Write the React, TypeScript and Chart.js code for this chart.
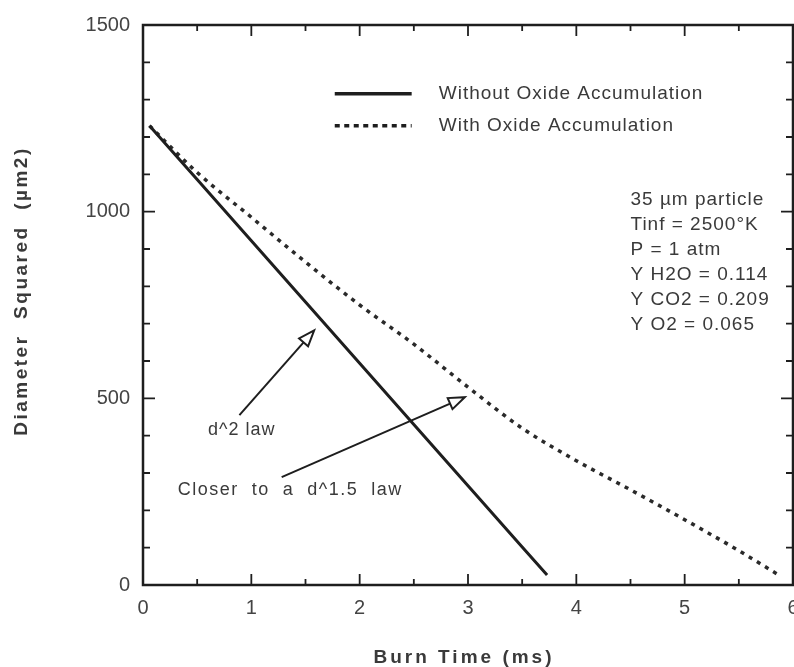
import React, { useEffect, useRef } from 'react';
import { Chart, registerables } from 'chart.js';

Chart.register(...registerables);

// ---- data ----
const withoutOxideTime = [0.06, 0.5, 1.0, 1.5, 2.0, 2.5, 3.0, 3.5, 3.73];
const withoutOxideD2 = [1230, 1086, 922, 758, 594, 430, 266, 102, 27];
const withOxideTime = [0.06, 0.5, 1.0, 1.5, 2.0, 2.5, 3.0, 3.5, 4.0, 4.5, 5.0, 5.5, 5.85];
const withOxideD2 = [1230, 1105, 985, 865, 750, 645, 530, 420, 333, 255, 175, 92, 30];
const seriesLabels = ['Without Oxide Accumulation', 'With Oxide Accumulation'];
const conditionLines = ['35 µm particle', 'Tinf = 2500°K', 'P = 1 atm', 'Y H2O = 0.114', 'Y CO2 = 0.209', 'Y O2 = 0.065'];
const xAxisTitle = 'Burn Time (ms)';
const yAxisTitle = 'Diameter  Squared  (µm2)';
const d2Label = 'd^2 law';
const d15Label = 'Closer  to  a  d^1.5  law';

// ---- layout constants (data coordinates) ----
const X_MIN = 0, X_MAX = 6, X_STEP = 1, X_MINOR = 0.5;
const Y_MIN = 0, Y_MAX = 1500, Y_STEP = 500, Y_MINOR = 100;
const LEGEND_X0 = 1.77, LEGEND_X1 = 2.48, LEGEND_TEXT_X = 2.73;
const LEGEND_ROWS_Y = [1316, 1230];
const COND_X = 4.5;
const COND_Y = [1032, 965, 898, 831, 765, 698];
const D2_ARROW = { x0: 0.89, y0: 455, x1: 1.58, y1: 682 };
const D15_ARROW = { x0: 1.28, y0: 289, x1: 2.97, y1: 503 };
const D2_TEXT = { x: 0.6, y: 414 };
const D15_TEXT = { x: 0.32, y: 254 };

const FONT = '"Liberation Sans", Arial, Helvetica, sans-serif';
const INK = '#1e1e1e';
const TEXT = '#3a3a3a';

function setSpacing(ctx: CanvasRenderingContext2D, px: number) {
  (ctx as any).letterSpacing = px + 'px';
}

function drawArrow(ctx: CanvasRenderingContext2D, x0: number, y0: number, x1: number, y1: number) {
  const dx = x1 - x0, dy = y1 - y0;
  const len = Math.hypot(dx, dy);
  const ux = dx / len, uy = dy / len;
  const nx = -uy, ny = ux;
  const L = 16, W = 6;
  const bx = x1 - ux * L, by = y1 - uy * L;
  ctx.beginPath();
  ctx.moveTo(x0, y0);
  ctx.lineTo(bx, by);
  ctx.stroke();
  ctx.beginPath();
  ctx.moveTo(x1, y1);
  ctx.lineTo(bx + nx * W, by + ny * W);
  ctx.lineTo(bx - nx * W, by - ny * W);
  ctx.closePath();
  ctx.stroke();
}

const decorPlugin = {
  id: 'decor',
  afterDatasetsDraw(chart: any) {
    const { ctx, chartArea: a, scales } = chart;
    const xs = scales.x, ys = scales.y;
    ctx.save();
    // frame
    ctx.strokeStyle = INK;
    ctx.lineWidth = 2.5;
    ctx.strokeRect(a.left, a.top, a.right - a.left, a.bottom - a.top);
    // inward ticks
    ctx.lineWidth = 1.8;
    const nX = Math.round((X_MAX - X_MIN) / X_MINOR);
    for (let i = 0; i <= nX; i++) {
      const v = X_MIN + i * X_MINOR;
      const px = xs.getPixelForValue(v);
      const major = Math.abs(v / X_STEP - Math.round(v / X_STEP)) < 1e-6;
      const len = major ? 11 : 6;
      ctx.beginPath();
      ctx.moveTo(px, a.bottom); ctx.lineTo(px, a.bottom - len);
      ctx.moveTo(px, a.top); ctx.lineTo(px, a.top + len);
      ctx.stroke();
    }
    const nY = Math.round((Y_MAX - Y_MIN) / Y_MINOR);
    for (let i = 0; i <= nY; i++) {
      const v = Y_MIN + i * Y_MINOR;
      const py = ys.getPixelForValue(v);
      const major = Math.abs(v / Y_STEP - Math.round(v / Y_STEP)) < 1e-6;
      const len = major ? 12 : 7;
      ctx.beginPath();
      ctx.moveTo(a.left, py); ctx.lineTo(a.left + len, py);
      ctx.moveTo(a.right, py); ctx.lineTo(a.right - len, py);
      ctx.stroke();
    }

    // legend
    ctx.strokeStyle = INK;
    ctx.lineWidth = 3.5;
    ctx.setLineDash([]);
    let ly = ys.getPixelForValue(LEGEND_ROWS_Y[0]);
    ctx.beginPath();
    ctx.moveTo(xs.getPixelForValue(LEGEND_X0), ly);
    ctx.lineTo(xs.getPixelForValue(LEGEND_X1), ly);
    ctx.stroke();
    ly = ys.getPixelForValue(LEGEND_ROWS_Y[1]);
    ctx.setLineDash([5, 4.5]);
    ctx.beginPath();
    ctx.moveTo(xs.getPixelForValue(LEGEND_X0), ly);
    ctx.lineTo(xs.getPixelForValue(LEGEND_X1), ly);
    ctx.stroke();
    ctx.setLineDash([]);

    ctx.fillStyle = TEXT;
    ctx.textBaseline = 'middle';
    ctx.textAlign = 'left';
    ctx.font = `19px ${FONT}`;
    setSpacing(ctx, 1);
    seriesLabels.forEach((s, i) => {
      ctx.fillText(s, xs.getPixelForValue(LEGEND_TEXT_X), ys.getPixelForValue(LEGEND_ROWS_Y[i]));
    });

    // conditions block
    conditionLines.forEach((s, i) => {
      ctx.fillText(s, xs.getPixelForValue(COND_X), ys.getPixelForValue(COND_Y[i]));
    });

    // annotations
    ctx.font = `18px ${FONT}`;
    setSpacing(ctx, 1);
    ctx.fillText(d2Label, xs.getPixelForValue(D2_TEXT.x), ys.getPixelForValue(D2_TEXT.y));
    setSpacing(ctx, 1.5);
    ctx.fillText(d15Label, xs.getPixelForValue(D15_TEXT.x), ys.getPixelForValue(D15_TEXT.y));
    setSpacing(ctx, 0);

    ctx.strokeStyle = INK;
    ctx.lineWidth = 2;
    drawArrow(ctx, xs.getPixelForValue(D2_ARROW.x0), ys.getPixelForValue(D2_ARROW.y0),
      xs.getPixelForValue(D2_ARROW.x1), ys.getPixelForValue(D2_ARROW.y1));
    drawArrow(ctx, xs.getPixelForValue(D15_ARROW.x0), ys.getPixelForValue(D15_ARROW.y0),
      xs.getPixelForValue(D15_ARROW.x1), ys.getPixelForValue(D15_ARROW.y1));

    // axis titles
    ctx.fillStyle = TEXT;
    ctx.font = `bold 19px ${FONT}`;
    ctx.textAlign = 'center';
    setSpacing(ctx, 3);
    ctx.fillText(xAxisTitle, (a.left + a.right) / 2 - 4, 658);
    ctx.translate(22, 291);
    ctx.rotate(-Math.PI / 2);
    setSpacing(ctx, 2.5);
    ctx.fillText(yAxisTitle, 0, 0);
    setSpacing(ctx, 0);
    ctx.restore();
  },
};

export default function App() {
  const ref = useRef<HTMLCanvasElement | null>(null);
  useEffect(() => {
    if (!ref.current) return;
    const chart = new Chart(ref.current, {
      type: 'line',
      data: {
        datasets: [
          {
            label: seriesLabels[0],
            data: withoutOxideTime.map((t, i) => ({ x: t, y: withoutOxideD2[i] })),
            borderColor: INK,
            borderWidth: 3,
            pointRadius: 0,
            tension: 0,
          },
          {
            label: seriesLabels[1],
            data: withOxideTime.map((t, i) => ({ x: t, y: withOxideD2[i] })),
            borderColor: '#2a2a2a',
            borderWidth: 3.5,
            borderDash: [4, 5.5],
            pointRadius: 0,
            cubicInterpolationMode: 'monotone',
          },
        ],
      },
      options: {
        animation: false,
        responsive: false,
        devicePixelRatio: 1,
        layout: { padding: { top: 24, right: 37, left: 0, bottom: 0 } },
        plugins: { legend: { display: false }, tooltip: { enabled: false } },
        scales: {
          x: {
            type: 'linear',
            min: X_MIN,
            max: X_MAX,
            grid: { display: false, drawTicks: false },
            border: { display: false },
            ticks: {
              stepSize: X_STEP,
              padding: 11,
              color: '#444',
              font: { family: FONT, size: 20 },
              maxRotation: 0,
              callback: (v: any) => String(v),
            },
            afterFit: (s: any) => { s.height = 82; },
          },
          y: {
            type: 'linear',
            min: Y_MIN,
            max: Y_MAX,
            grid: { display: false, drawTicks: false },
            border: { display: false },
            ticks: {
              stepSize: Y_STEP,
              padding: 13,
              color: '#444',
              font: { family: FONT, size: 20 },
              callback: (v: any) => String(v),
            },
            afterFit: (s: any) => { s.width = 143; },
          },
        },
      },
      plugins: [decorPlugin],
    } as any);
    return () => chart.destroy();
  }, []);

  return (
    <div style={{ position: 'absolute', left: 0, top: 0, width: 794, height: 667, overflow: 'hidden', background: '#fff' }}>
      <canvas ref={ref} width={830} height={667} style={{ display: 'block' }} />
    </div>
  );
}
